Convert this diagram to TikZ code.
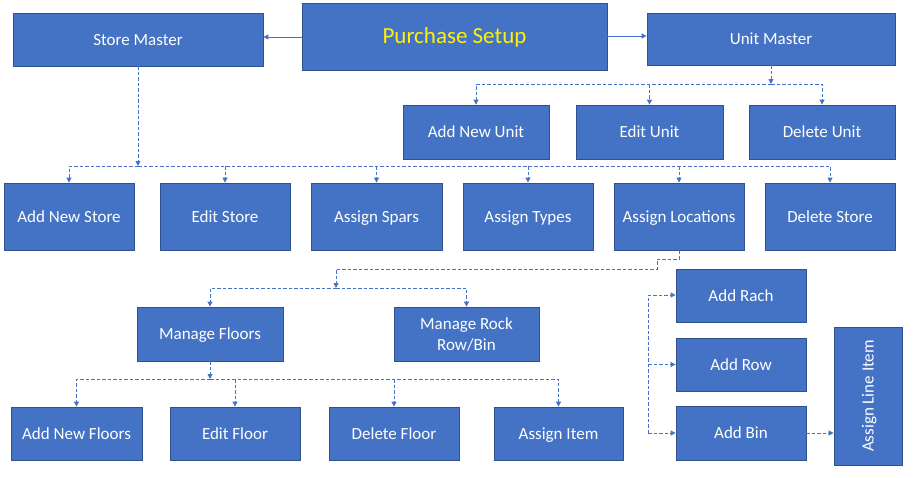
\documentclass[tikz,border=0pt]{standalone}
\usepackage{fontspec}
\setmainfont{Carlito}
\usetikzlibrary{arrows.meta}
\definecolor{boxfill}{HTML}{4472C4}
\definecolor{boxline}{HTML}{2F528F}
\definecolor{conn}{HTML}{4472C4}
\begin{document}
\begin{tikzpicture}[x=1pt,y=-1pt,
  boxbase/.style={draw=boxline, fill=boxfill, line width=0.8pt, text=white,
    font=\fontsize{17}{21}\selectfont, align=center, inner sep=0pt},
  box/.style={boxbase, text height=14pt, text depth=3pt},
  dl/.style={draw=conn, line width=0.9pt, dash pattern=on 3.5pt off 2pt},
  arr/.style={-{Triangle[length=5pt,width=5pt]}},
  sl/.style={draw=conn, line width=1pt}]
\useasboundingbox (0,0) rectangle (913,477);
\newcommand{\bx}[6]{\node[box, minimum width=#4-#2, minimum height=#5-#3] (#1) at ({(#2+#4)/2},{(#3+#5)/2}) {#6};}
% top row
\node[box, minimum width=305, minimum height=67, text=yellow, font=\fontsize{23}{26}\selectfont, text height=19pt, text depth=4.2pt] (ps) at (454.5,36.5) {Purchase Setup};
\bx{sm}{13}{13}{263}{66}{Store Master}
\bx{um}{647}{13}{895}{65}{Unit Master}
% unit row
\bx{anu}{403}{105}{549}{159}{Add New Unit}
\bx{eu}{576}{105}{723}{159}{Edit Unit}
\bx{du}{749}{105}{895}{159}{Delete Unit}
% store row
\bx{ans}{4}{183}{134}{250}{Add New Store}
\bx{es}{160}{183}{290}{250}{Edit Store}
\bx{asp}{311}{183}{442}{250}{Assign Spars}
\bx{at}{463}{183}{593}{250}{Assign Types}
\bx{al}{614}{183}{744}{250}{Assign Locations}
\bx{ds}{765}{183}{895}{250}{Delete Store}
% manage row
\bx{mf}{137}{307}{283}{361}{Manage Floors}
\node[boxbase, minimum width=145, minimum height=54] (mr) at (466.5,334) {Manage Rock\\Row/Bin};
% floors row
\bx{anf}{11}{407}{142}{460}{Add New Floors}
\bx{ef}{170}{407}{300}{460}{Edit Floor}
\bx{df}{329}{407}{459}{460}{Delete Floor}
\bx{ai}{494}{407}{623}{460}{Assign Item}
% right
\bx{ar}{676}{269}{806}{322}{Add Rach}
\bx{aro}{676}{338}{806}{391}{Add Row}
\bx{ab}{676}{406}{806}{460}{Add Bin}
\node[boxbase, minimum width=68, minimum height=138] (ali) at (868,396) {};
\node[text=white, font=\fontsize{17}{21}\selectfont, rotate=90, inner sep=0pt, text height=14pt, text depth=3pt] (alit) at (ali.center) {Assign Line Item};
% solid arrows from Purchase Setup
\draw[sl, arr] (ps.west |- 0,37) -- (sm.east |- 0,37);
\draw[sl, arr] (ps.east |- 0,36) -- (um.west |- 0,36);
% Unit Master tree
\coordinate (ubus) at (771,84);
\draw[dl, arr] (um.south -| ubus) -- (ubus);
\draw[dl, arr] (ubus) -| (anu.north);
\draw[dl, arr] (ubus) -| (du.north);
\draw[dl, arr] (eu.north |- ubus) -- (eu.north);
% Store Master tree
\coordinate (sbus) at (138,166);
\draw[dl, arr] (sm.south -| sbus) -- (sbus);
\draw[dl, arr] (sbus) -| (ans.north);
\draw[dl, arr] (sbus) -| (ds.north);
\foreach \n in {es,asp,at,al}
  \draw[dl, arr] (\n.north |- sbus) -- (\n.north);
% Assign Locations to manage row
\coordinate (lbend) at (657,259);
\coordinate (lbend2) at (657,269);
\coordinate (mbus) at (336,288);
\draw[dl, arr] (al.south) |- (lbend) -- (lbend2) -| (mbus);
\draw[dl, arr] (mbus) -| (mf.north);
\draw[dl, arr] (mbus) -| (mr.north);
% Manage Floors tree
\coordinate (fbus) at (210,379);
\draw[dl, arr] (mf.south) -- (fbus);
\draw[dl, arr] (fbus) -| (anf.north);
\draw[dl, arr] (fbus) -| (ai.north);
\foreach \n in {ef,df}
  \draw[dl, arr] (\n.north |- fbus) -- (\n.north);
% rack/row/bin branch
\coordinate (rtop) at (648,295);
\coordinate (rbot) at (648,433);
\draw[dl, arr] (rbot) -- (rtop) -- (ar.west |- rtop);
\draw[dl, arr] (rtop |- aro.west) -- (aro.west);
\draw[dl, arr] (rbot) -- (ab.west |- rbot);
\draw[dl, arr] (ab.east) -- (ali.west |- ab.east);
\end{tikzpicture}
\end{document}
